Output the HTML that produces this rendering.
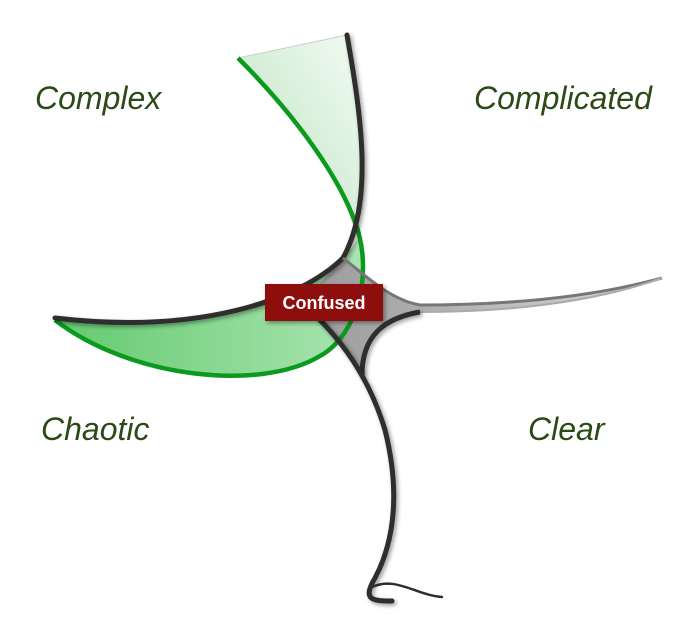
<!DOCTYPE html>
<html><head><style>
html,body{margin:0;padding:0;background:#fff;}
svg{display:block;}
.l{font-family:"Liberation Sans",sans-serif;font-style:italic;font-size:32px;fill:#2b4a17;}
</style></head><body>
<svg width="698" height="637" viewBox="0 0 698 637" xmlns="http://www.w3.org/2000/svg">
<defs>
<linearGradient id="g1" x1="0" y1="1" x2="1" y2="0">
<stop offset="0" stop-color="#b8e2bd"/><stop offset="1" stop-color="#f4fbf4"/>
</linearGradient>
<linearGradient id="g2" x1="0" y1="0" x2="1" y2="0">
<stop offset="0" stop-color="#5cc768"/><stop offset="1" stop-color="#a6e3ad"/>
</linearGradient>
<linearGradient id="g3" x1="0" y1="0" x2="1" y2="0">
<stop offset="0" stop-color="#9a9a9a"/><stop offset="1" stop-color="#d8d8d8"/>
</linearGradient>
<filter id="sh" x="-20%" y="-20%" width="140%" height="140%"><feGaussianBlur in="SourceAlpha" stdDeviation="2"/><feOffset dx="2" dy="2"/><feComponentTransfer><feFuncA type="linear" slope="0.4"/></feComponentTransfer><feMerge><feMergeNode/><feMergeNode in="SourceGraphic"/></feMerge></filter>
</defs>
<path d="M238,58 L347,35 C360,110 375,200 355,232 C340,180 300,120 238,58 Z" fill="url(#g1)"/>
<line x1="238" y1="58" x2="347" y2="35" stroke="#ccc" stroke-width="1"/>
<path d="M55,320 C200,335 300,300 343,258 C360,240 363,230 358,222 C374,272 358,335 320,356 C260,392 130,378 55,320 Z" fill="url(#g2)" opacity="0.95"/>
<path d="M343,258 C365,275 390,300 420,305 C520,305 600,295 662,278 C600,300 520,312 420,312 C385,318 365,335 362,375 C345,350 330,335 318,318 L305,300 Z" fill="url(#g3)"/>
<path d="M238,58 C300,120 340,180 355,222 C374,272 358,335 320,356 C260,392 130,378 55,320" fill="none" stroke="#0a9a1e" stroke-width="4.5"/>
<path d="M347,35 C360,110 375,200 343,258 C300,300 200,335 55,318" fill="none" stroke="#2e2e2e" stroke-width="5" stroke-linecap="round" filter="url(#sh)"/>
<path d="M343,258 C365,275 390,300 420,305 C520,305 600,295 662,278" fill="none" stroke="#777" stroke-width="3"/>
<path d="M662,278 C600,300 520,312 420,312" fill="none" stroke="#aaa" stroke-width="2"/>
<path d="M420,312 C385,318 362,335 362,375" fill="none" stroke="#2e2e2e" stroke-width="5" filter="url(#sh)"/>
<path d="M318,318 C345,345 370,380 385,430 C400,490 395,540 375,578 C362,600 372,601 392,601" fill="none" stroke="#2e2e2e" stroke-width="5" stroke-linecap="round" filter="url(#sh)"/>
<path d="M370,588 C395,575 415,595 442,597" fill="none" stroke="#2e2e2e" stroke-width="2.5" stroke-linecap="round"/>
<rect x="265" y="284" width="118" height="37" fill="#8e0a0e" filter="url(#sh)"/>
<text x="324" y="309" text-anchor="middle" font-family="Liberation Sans,sans-serif" font-weight="bold" font-size="18" fill="#fff">Confused</text>
<text class="l" x="35" y="109">Complex</text>
<text class="l" x="474" y="109">Complicated</text>
<text class="l" x="41" y="440">Chaotic</text>
<text class="l" x="528" y="440">Clear</text>
</svg>
</body></html>
